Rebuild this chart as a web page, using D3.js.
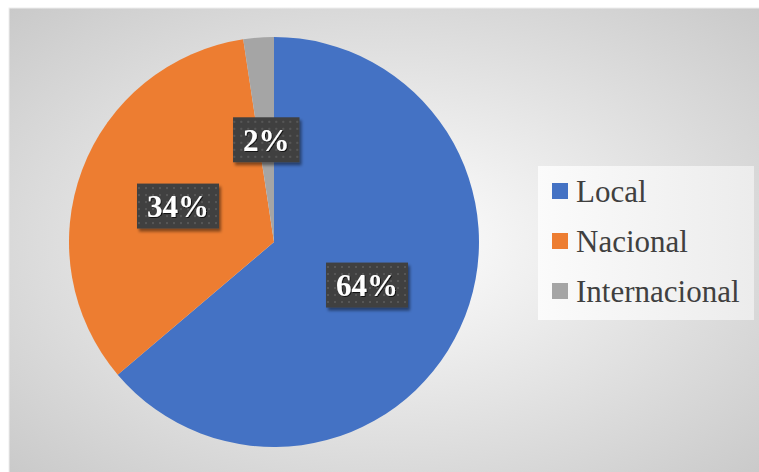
<!DOCTYPE html>
<html>
<head>
<meta charset="utf-8">
<script src="https://cdn.jsdelivr.net/npm/d3@7"></script>
<style>
  body { margin: 0; background: #fff; }
  svg { display: block; }
  .serif { font-family: "Liberation Serif", Tinos, "Times New Roman", "DejaVu Serif", serif; }
</style>
</head>
<body>
<div id="chart"></div>
<script>
const categories = ["Local", "Nacional", "Internacional"];
const values = [63.8, 33.8, 2.4];
const colors = ["#4472C4", "#ED7D31", "#A5A5A5"];

const width = 759, height = 472;
const cx = 274, cy = 242, radius = 205;

const svg = d3.select("#chart").append("svg")
  .attr("width", width)
  .attr("height", height);

const defs = svg.append("defs");

// chart area background
const bg = defs.append("radialGradient")
  .attr("id", "bgGrad")
  .attr("cx", "50%").attr("cy", "50%").attr("r", "80%");
bg.append("stop").attr("offset", "0%").attr("stop-color", "#ffffff");
bg.append("stop").attr("offset", "100%").attr("stop-color", "#c2c2c2");

const lg = defs.append("linearGradient")
  .attr("id", "legGrad")
  .attr("x1", "0").attr("x2", "1");
lg.append("stop").attr("offset", "0%").attr("stop-color", "#fbfbfb");
lg.append("stop").attr("offset", "100%").attr("stop-color", "#ececec");

// dotted texture for the label boxes
const pat = defs.append("pattern")
  .attr("id", "dots")
  .attr("width", 7).attr("height", 7)
  .attr("patternUnits", "userSpaceOnUse");
pat.append("rect").attr("width", 7).attr("height", 7).attr("fill", "#404040");
pat.append("rect").attr("x", 2).attr("y", 2).attr("width", 2).attr("height", 2).attr("fill", "#575757");

const shadow = defs.append("filter").attr("id", "shadow")
  .attr("x", "-20%").attr("y", "-20%").attr("width", "150%").attr("height", "150%");
shadow.append("feDropShadow")
  .attr("dx", 2).attr("dy", 3).attr("stdDeviation", 1.5)
  .attr("flood-color", "#000").attr("flood-opacity", 0.45);

const txtShadow = defs.append("filter").attr("id", "txtShadow");
txtShadow.append("feDropShadow")
  .attr("dx", 1).attr("dy", 1).attr("stdDeviation", 0.6)
  .attr("flood-color", "#000").attr("flood-opacity", 0.7);

svg.append("rect")
  .attr("x", 9).attr("y", 8)
  .attr("width", width - 9 + 5).attr("height", height - 8 + 5)
  .attr("fill", "url(#bgGrad)")
  .attr("stroke", "#eeeeee");

//-----------------------------------------------------------------------------
// Pie
const pie = d3.pie().sort(null).value(d => d.value);
const data = categories.map((c, i) => ({ name: c, value: values[i], color: colors[i] }));
const arcs = pie(data);
const total = d3.sum(values);

const arc = d3.arc().innerRadius(0).outerRadius(radius);

const g = svg.append("g").attr("transform", `translate(${cx},${cy})`);

g.selectAll(".slice")
  .data(arcs)
  .join("path")
  .attr("class", "slice")
  .attr("d", arc)
  .attr("fill", d => d.data.color);

//-----------------------------------------------------------------------------
// Data labels
const labels = g.selectAll(".lbl")
  .data(arcs)
  .join("g")
  .attr("class", "lbl")
  .attr("transform", d => `translate(${arc.centroid(d)})`);

labels.each(function (d) {
  const sel = d3.select(this);
  const box = sel.append("rect").attr("fill", "url(#dots)").attr("filter", "url(#shadow)");
  const t = sel.append("text")
    .attr("class", "serif")
    .text(Math.round(d.data.value / total * 100) + "%")
    .attr("text-anchor", "middle")
    .attr("dy", "0.35em")
    .attr("fill", "#ffffff")
    .attr("font-weight", "bold")
    .attr("font-size", 31)
    .attr("filter", "url(#txtShadow)");
  const w = t.node().getComputedTextLength() + 20;
  const h = 45;
  box.attr("x", -w / 2).attr("y", -h / 2).attr("width", w).attr("height", h);
});

//-----------------------------------------------------------------------------
// Legend
const legend = svg.append("g").attr("transform", "translate(538,166)");

legend.append("rect")
  .attr("width", 216).attr("height", 154)
  .attr("fill", "url(#legGrad)");

const items = legend.selectAll(".item")
  .data(data)
  .join("g")
  .attr("class", "item")
  .attr("transform", (d, i) => `translate(14,${36 + i * 50})`);

items.append("rect")
  .attr("x", 0).attr("y", -19)
  .attr("width", 16).attr("height", 16)
  .attr("fill", d => d.color);

items.append("text")
  .attr("class", "serif")
  .attr("x", 24)
  .text(d => d.name)
  .attr("fill", "#404040")
  .attr("font-size", 31);
</script>
</body>
</html>
